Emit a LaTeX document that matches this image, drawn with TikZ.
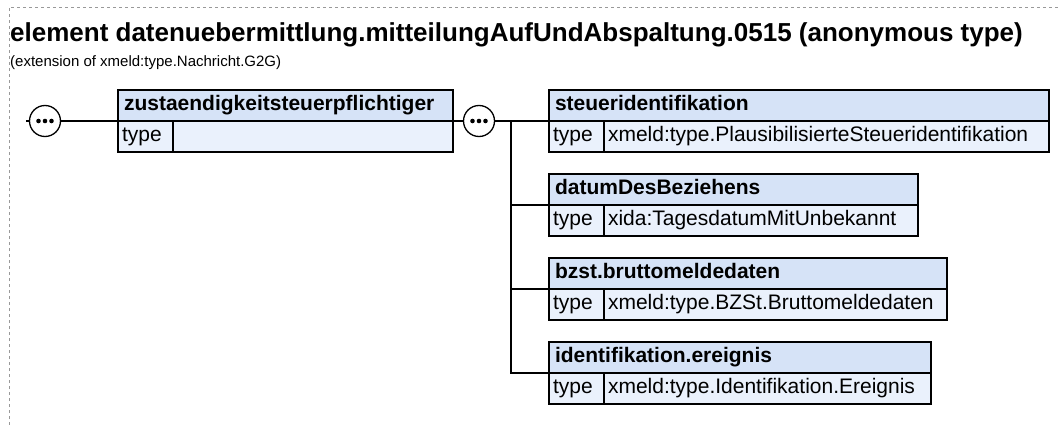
\documentclass[tikz,border=0pt]{standalone}
\usepackage{fontspec}
\setmainfont{Liberation Sans}
\usetikzlibrary{positioning}

\definecolor{kopfblau}{HTML}{D6E3F7}
\definecolor{zeilenblau}{HTML}{EAF1FC}

\tikzset{
  kopf/.style={draw=black, line width=1.3pt, fill=kopfblau, anchor=north west,
    outer sep=0pt, minimum height=31pt, inner xsep=6pt, inner ysep=0pt, text width=#1,
    text height=15pt, text depth=4.5pt, align=left,
    font=\bfseries\fontsize{21}{24}\selectfont},
  typ/.style={draw=black, line width=1.3pt, fill=zeilenblau, anchor=north west,
    outer sep=0pt, minimum height=31pt, inner xsep=4pt, inner ysep=0pt,
    text width=47pt, align=left,
    text height=15pt, text depth=4.5pt, font=\fontsize{21}{24}\selectfont},
  wert/.style={typ, inner xsep=4pt, text width=#1},
  kreis/.style={circle, draw=black, line width=1.3pt, fill=white, minimum size=31pt,
    inner sep=0pt, outer sep=0pt,
    path picture={
      \fill[black] (path picture bounding box.center) circle (2.3pt);
      \fill[black] ([xshift=-6.5pt]path picture bounding box.center) circle (2.3pt);
      \fill[black] ([xshift=6.5pt]path picture bounding box.center) circle (2.3pt);
    }},
  linie/.style={draw=black, line width=1.3pt}
}

\begin{document}
\begin{tikzpicture}[x=1pt,y=-1pt]

\useasboundingbox (0,0) rectangle (1060,425);

% Rahmen
\draw[gray!80, dashed, line width=0.8pt] (9,425) -- (9,7) -- (1060,7);

% Titel
\node[anchor=base west, inner sep=0pt, font=\bfseries\fontsize{26}{30}\selectfont] (titel) at (10,42)
  {element datenuebermittlung.mitteilungAufUndAbspaltung.0515 (anonymous type)};
\node[anchor=base west, inner sep=0pt, font=\fontsize{15}{18}\selectfont] (untertitel) at (10,67)
  {(extension of xmeld:type.Nachricht.G2G)};

% Element links
\node[kopf=323pt] (zst) at (118,90) {zustaendigkeitsteuerpflichtiger};
\node[typ] (zst-t) at (118,121) {type};
\node[wert=272pt] (zst-v) at (173,121) {};

% Kindelemente
\node[kopf=488pt] (sid) at (549,90) {steueridentifikation};
\node[typ] (sid-t) at (549,121) {type};
\node[wert=437pt] (sid-v) at (604,121) {xmeld:type.PlausibilisierteSteueridentifikation};

\node[kopf=357pt] (dat) at (549,174) {datumDesBeziehens};
\node[typ] (dat-t) at (549,205) {type};
\node[wert=306pt] (dat-v) at (604,205) {xida:TagesdatumMitUnbekannt};

\node[kopf=386pt] (bzst) at (549,258) {bzst.bruttomeldedaten};
\node[typ] (bzst-t) at (549,289) {type};
\node[wert=335pt] (bzst-v) at (604,289) {xmeld:type.BZSt.Bruttomeldedaten};

\node[kopf=370pt] (ide) at (549,342) {identifikation.ereignis};
\node[typ] (ide-t) at (549,373) {type};
\node[wert=319pt] (ide-v) at (604,373) {xmeld:type.Identifikation.Ereignis};

% Sequenzen
\node[kreis] (seq1) at (45,121) {};
\node[kreis] (seq2) at (479,121) {};

% Verbindungen
\coordinate (anfang) at (26,121);
\coordinate (ast) at (511,121);
\draw[linie] (anfang) -- (seq1.west);
\draw[linie] (seq1.east) -- (zst.south west);
\draw[linie] (zst.south east) -- (seq2.west);
\draw[linie] (seq2.east) -- (sid.south west);
\draw[linie] (ast) |- (ide.south west);
\draw[linie] (ast |- dat.south west) -- (dat.south west);
\draw[linie] (ast |- bzst.south west) -- (bzst.south west);

\end{tikzpicture}
\end{document}
